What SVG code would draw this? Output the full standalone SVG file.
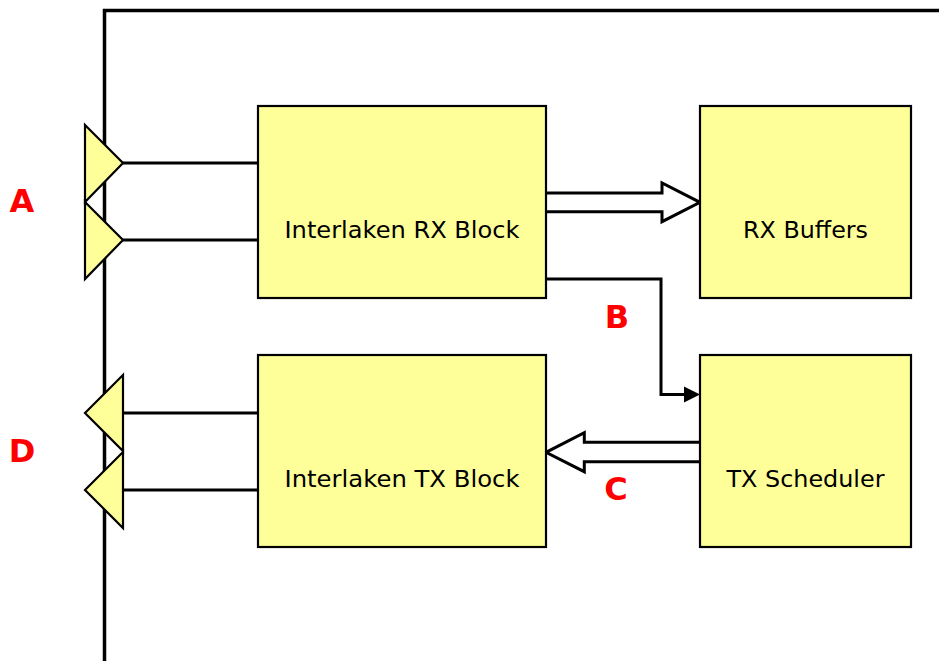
<svg xmlns="http://www.w3.org/2000/svg" width="939" height="661" viewBox="0 0 939 661">
<style>
.box{fill:#FFFF99;stroke:#000;stroke-width:2.2}
.lbl{font-family:"DejaVu Sans",Verdana,sans-serif;font-size:23px;fill:#000;text-anchor:middle}
.tag{font-family:"DejaVu Sans","Liberation Sans",sans-serif;font-size:32px;font-weight:bold;fill:#FF0000;text-anchor:middle}
.wire{fill:none;stroke:#000;stroke-width:3}
.fat{fill:#fff;stroke:#000;stroke-width:3;stroke-linejoin:miter}
.port{fill:#FFFF99;stroke:#000;stroke-width:2.2;stroke-linejoin:miter}
</style>
<defs>
<marker id="ah" viewBox="0 0 16 16" refX="16" refY="8" markerWidth="16" markerHeight="16" markerUnits="userSpaceOnUse" orient="auto">
<path d="M0,0 L16,8 L0,16 Z" fill="#000"/>
</marker>
</defs>
<rect width="939" height="661" fill="#fff"/>
<g id="frame">
<path d="M104.5,661 V10.5 H939" fill="none" stroke="#000" stroke-width="3.5"/>
</g>
<g id="connectors">
<line class="wire" x1="123" y1="163" x2="258" y2="163"/>
<line class="wire" x1="123" y1="240" x2="258" y2="240"/>
<line class="wire" x1="123" y1="413" x2="258" y2="413"/>
<line class="wire" x1="123" y1="490" x2="258" y2="490"/>
<path class="fat" d="M546,193 H662 V183 L700,202.3 L662,221.7 V211.7 H546"/>
<path class="fat" d="M700,442.3 H584.3 V432.7 L546,452.3 L584.3,471.7 V461.7 H700"/>
<path class="wire" d="M546,279 H661 V394.5 H686" />
<path d="M684,386.5 L700,394.5 L684,402.5 Z" fill="#000"/>
</g>
<g id="portA1"><path class="port" d="M85,125 L123,163 L85,202 Z"/></g>
<g id="portA2"><path class="port" d="M85,202 L123,240 L85,279 Z"/></g>
<g id="portD1"><path class="port" d="M123,375 L85,413 L123,451 Z"/></g>
<g id="portD2"><path class="port" d="M123,452 L85,490 L123,528 Z"/></g>
<g id="rxBlock">
<rect class="box" x="258" y="106" width="288" height="192"/>
<text class="lbl" x="402" y="238" textLength="235" lengthAdjust="spacingAndGlyphs">Interlaken RX Block</text>
</g>
<g id="rxBuffers">
<rect class="box" x="700" y="106" width="211" height="192"/>
<text class="lbl" x="805.5" y="238" textLength="125" lengthAdjust="spacingAndGlyphs">RX Buffers</text>
</g>
<g id="txBlock">
<rect class="box" x="258" y="355" width="288" height="192"/>
<text class="lbl" x="402" y="487" textLength="235" lengthAdjust="spacingAndGlyphs">Interlaken TX Block</text>
</g>
<g id="txScheduler">
<rect class="box" x="700" y="355" width="211" height="192"/>
<text class="lbl" x="805.5" y="487" textLength="158" lengthAdjust="spacingAndGlyphs">TX Scheduler</text>
</g>
<g id="labels">
<text class="tag" x="22" y="212">A</text>
<text class="tag" x="617" y="328">B</text>
<text class="tag" x="616" y="500">C</text>
<text class="tag" x="22" y="462">D</text>
</g>
</svg>
